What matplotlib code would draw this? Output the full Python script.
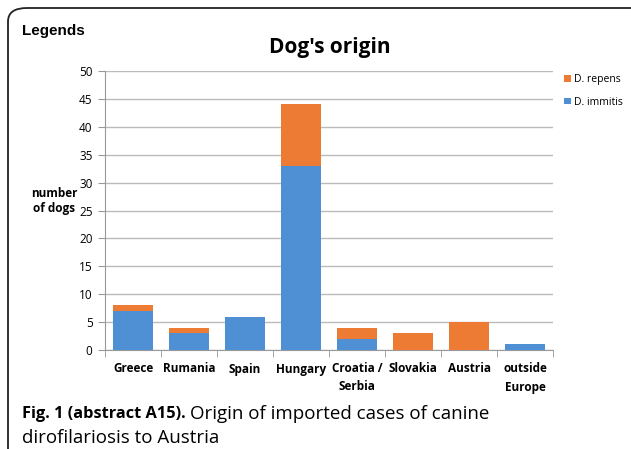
import matplotlib.pyplot as plt
from matplotlib.patches import FancyBboxPatch
import numpy as np

countries = ['Greece', 'Rumania', 'Spain', 'Hungary', 'Croatia /\nSerbia',
             'Slovakia', 'Austria', 'outside\nEurope']
immitis = [7, 3, 6, 33, 2, 0, 0, 1]
repens = [1, 1, 0, 11, 2, 3, 5, 0]
yticks = [0, 5, 10, 15, 20, 25, 30, 35, 40, 45, 50]

blue = '#4F8FD3'
orange = '#EE7B33'


def main():
    fig = plt.figure(figsize=(6.31, 4.49), dpi=100)
    # rounded frame round the whole figure panel
    frame = FancyBboxPatch((8 / 631, -0.1), 1.2, 1.1 - 8 / 449,
                           boxstyle='round,pad=0,rounding_size=0.03',
                           transform=fig.transFigure, fill=False,
                           edgecolor='#222222', linewidth=1.3, clip_on=False)
    fig.patches.append(frame)

    ax = fig.add_axes([105 / 631, 1 - 350 / 449, 448 / 631, 279 / 449])
    x = np.arange(len(countries))
    ax.bar(x, immitis, width=0.7, color=blue, zorder=3, label='D. immitis')
    ax.bar(x, repens, width=0.7, bottom=immitis, color=orange, zorder=3,
           label='D. repens')

    ax.set_xlim(-0.5, len(countries) - 0.5)
    ax.set_ylim(0, 50)
    ax.set_yticks(yticks)
    ax.set_yticklabels([str(v) for v in yticks], fontsize=8.5, family='Open Sans')
    ax.yaxis.grid(True, color='#BBBBBB', linewidth=1, zorder=0)
    ax.set_xticks(x)
    ax.set_xticklabels(countries, fontsize=8.5, fontweight='bold',
                       family='Open Sans', linespacing=1.5)
    ax.set_xticks(np.arange(-0.5, len(countries)), minor=True)
    ax.tick_params(axis='x', which='major', length=0, pad=9)
    ax.tick_params(axis='x', which='minor', length=5, color='#999999')
    ax.tick_params(axis='y', length=5, color='#999999', pad=4)
    for side in ['top', 'right']:
        ax.spines[side].set_visible(False)
    ax.spines['left'].set_color('#999999')
    ax.spines['bottom'].set_color('#999999')

    handles, labels = ax.get_legend_handles_labels()
    fig.legend(handles[::-1], labels[::-1], loc='upper left',
               bbox_to_anchor=(555 / 631, 1 - 65 / 449), frameon=False,
               handlelength=0.6, handleheight=0.6, handletextpad=0.3,
               labelspacing=1.1, prop={'family': 'Open Sans', 'size': 7.5})

    fig.text(330 / 631, 1 - 48 / 449, "Dog's origin", ha='center', va='center',
             fontsize=15, fontweight='bold', family='Open Sans')
    fig.text(22 / 631, 1 - 31 / 449, 'Legends', ha='left', va='center',
             fontsize=11, fontweight='bold', family='Liberation Sans')
    fig.text(54 / 631, 1 - 201 / 449, 'number\nof dogs', ha='center',
             va='center', fontsize=8.5, fontweight='bold', family='Open Sans')

    fig.text(22 / 631, 1 - 414 / 449, 'Fig. 1 (abstract A15).', ha='left',
             va='center', fontsize=11.8, fontweight='bold', family='Open Sans')
    fig.text(190 / 631, 1 - 414 / 449, 'Origin of imported cases of canine',
             ha='left', va='center', fontsize=13.5, family='Open Sans')
    fig.text(22 / 631, 1 - 438 / 449, 'dirofilariosis to Austria', ha='left',
             va='center', fontsize=13.5, family='Open Sans')

    fig.savefig('out.png', dpi=100)


if __name__ == "__main__":
    main()
